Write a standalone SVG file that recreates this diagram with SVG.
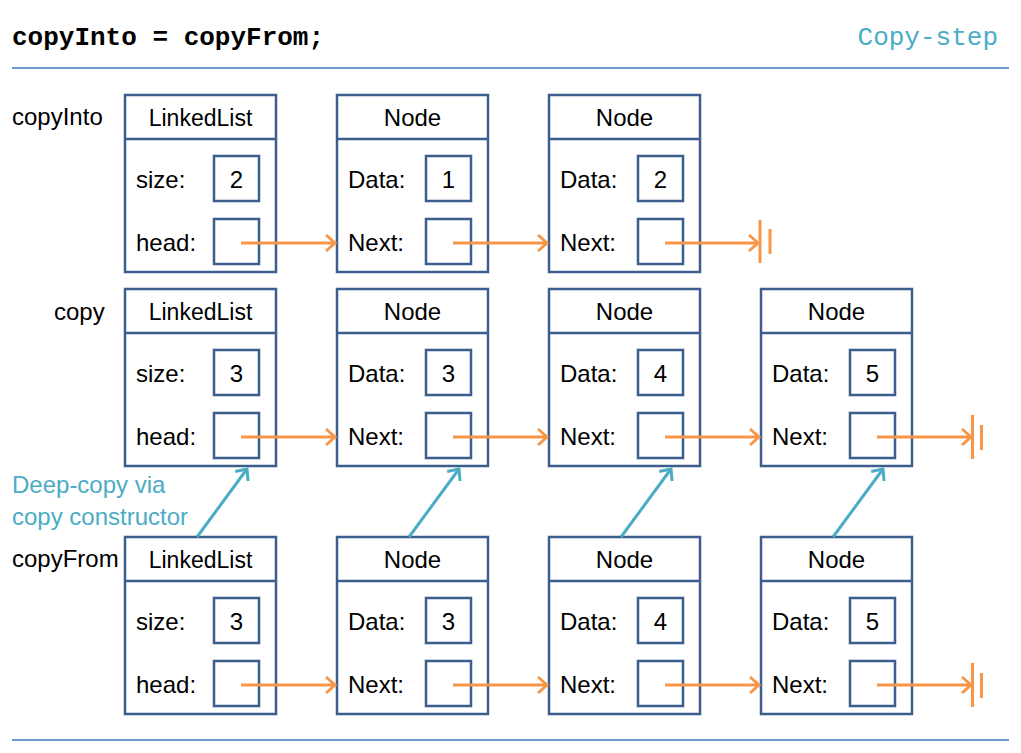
<svg xmlns="http://www.w3.org/2000/svg" width="1021" height="753" viewBox="0 0 1021 753">
<style>
.box{fill:#fff;stroke:#3B5E8C;stroke-width:2.5}
.vb{fill:none;stroke:#3B5E8C;stroke-width:2.5}
.t{font-family:"Liberation Sans",Arial,sans-serif;font-size:24px;fill:#000}
.h{font-size:23px}
.c{text-anchor:middle}
.o{stroke:#F79646;stroke-width:3;fill:none}
.b{stroke:#4BACC6;stroke-width:3;fill:none}
.bt{font-family:"Liberation Sans",Arial,sans-serif;font-size:24px;fill:#4BACC6}
.rule{stroke:#4479BE;stroke-width:1.5}
</style>
<defs>
<marker id="ao" markerUnits="userSpaceOnUse" markerWidth="14" markerHeight="20" refX="11" refY="9" orient="auto" viewBox="0 0 14 18">
<path d="M2,1 L11,9 L2,17" fill="none" stroke="#F79646" stroke-width="3"/>
</marker>
<marker id="ab" markerUnits="userSpaceOnUse" markerWidth="14" markerHeight="20" refX="11" refY="9" orient="auto" viewBox="0 0 14 18">
<path d="M2,1 L11,9 L2,17" fill="none" stroke="#4BACC6" stroke-width="3"/>
</marker>
<g id="ll">
<rect class="box" x="0" y="0" width="151" height="177"/>
<line class="vb" x1="0" y1="44" x2="151" y2="44"/>
<text class="t h c" x="75.5" y="31">LinkedList</text>
<rect class="vb" x="89" y="61" width="45" height="45"/>
<rect class="vb" x="89" y="124" width="45" height="45"/>
<text class="t" x="11" y="93">size:</text>
<text class="t" x="11" y="156">head:</text>
</g>
<g id="nd">
<rect class="box" x="0" y="0" width="151" height="177"/>
<line class="vb" x1="0" y1="44" x2="151" y2="44"/>
<text class="t c" x="75.5" y="31">Node</text>
<rect class="vb" x="89" y="61" width="45" height="45"/>
<rect class="vb" x="89" y="124" width="45" height="45"/>
<text class="t" x="11" y="93">Data:</text>
<text class="t" x="11" y="156">Next:</text>
</g>
</defs>

<g id="header">
<text x="12" y="45" style="font-family:'Liberation Mono','Courier New',monospace;font-size:26px;font-weight:bold" fill="#000">copyInto = copyFrom;</text>
<text x="998" y="45" text-anchor="end" style="font-family:'Liberation Mono','Courier New',monospace;font-size:26px" fill="#4BACC6">Copy-step</text>
<line class="rule" x1="12" y1="68" x2="1009" y2="68"/>
<line class="rule" x1="12" y1="740" x2="1009" y2="740"/>
</g>

<g id="labels">
<text class="t" x="12" y="125">copyInto</text>
<text class="t" x="54" y="320">copy</text>
<text class="t" x="12" y="567">copyFrom</text>
<text class="bt" x="12" y="493">Deep-copy via</text>
<text class="bt" x="12" y="525">copy constructor</text>
</g>

<g id="copyInto-list"><use href="#ll" x="125" y="95"/><text class="t c" x="236.5" y="188">2</text></g>
<g id="copyInto-node1"><use href="#nd" x="337" y="95"/><text class="t c" x="448.5" y="188">1</text></g>
<g id="copyInto-node2"><use href="#nd" x="549" y="95"/><text class="t c" x="660.5" y="188">2</text></g>

<g id="copy-list"><use href="#ll" x="125" y="289"/><text class="t c" x="236.5" y="382">3</text></g>
<g id="copy-node1"><use href="#nd" x="337" y="289"/><text class="t c" x="448.5" y="382">3</text></g>
<g id="copy-node2"><use href="#nd" x="549" y="289"/><text class="t c" x="660.5" y="382">4</text></g>
<g id="copy-node3"><use href="#nd" x="761" y="289"/><text class="t c" x="872.5" y="382">5</text></g>

<g id="copyFrom-list"><use href="#ll" x="125" y="537"/><text class="t c" x="236.5" y="630">3</text></g>
<g id="copyFrom-node1"><use href="#nd" x="337" y="537"/><text class="t c" x="448.5" y="630">3</text></g>
<g id="copyFrom-node2"><use href="#nd" x="549" y="537"/><text class="t c" x="660.5" y="630">4</text></g>
<g id="copyFrom-node3"><use href="#nd" x="761" y="537"/><text class="t c" x="872.5" y="630">5</text></g>

<g id="connectors">
<line class="o" x1="241" y1="243" x2="335" y2="243" marker-end="url(#ao)"/>
<line class="o" x1="453" y1="243" x2="547" y2="243" marker-end="url(#ao)"/>
<line class="o" x1="665" y1="243" x2="758" y2="243" marker-end="url(#ao)"/>
<line class="o" x1="760" y1="220" x2="760" y2="263"/>
<line class="o" x1="770" y1="229" x2="770" y2="254"/>

<line class="o" x1="241" y1="437" x2="335" y2="437" marker-end="url(#ao)"/>
<line class="o" x1="453" y1="437" x2="547" y2="437" marker-end="url(#ao)"/>
<line class="o" x1="665" y1="437" x2="759" y2="437" marker-end="url(#ao)"/>
<line class="o" x1="877" y1="437" x2="971" y2="437" marker-end="url(#ao)"/>
<line class="o" x1="972.5" y1="415" x2="972.5" y2="459"/>
<line class="o" x1="981.5" y1="425" x2="981.5" y2="450"/>

<line class="o" x1="241" y1="685" x2="335" y2="685" marker-end="url(#ao)"/>
<line class="o" x1="453" y1="685" x2="547" y2="685" marker-end="url(#ao)"/>
<line class="o" x1="665" y1="685" x2="759" y2="685" marker-end="url(#ao)"/>
<line class="o" x1="877" y1="685" x2="971" y2="685" marker-end="url(#ao)"/>
<line class="o" x1="972.5" y1="663" x2="972.5" y2="707"/>
<line class="o" x1="981.5" y1="673" x2="981.5" y2="698"/>

<line class="b" x1="197" y1="537" x2="247" y2="469" marker-end="url(#ab)"/>
<line class="b" x1="409" y1="537" x2="459" y2="469" marker-end="url(#ab)"/>
<line class="b" x1="621" y1="537" x2="671" y2="469" marker-end="url(#ab)"/>
<line class="b" x1="833" y1="537" x2="883" y2="469" marker-end="url(#ab)"/>
</g>
</svg>
